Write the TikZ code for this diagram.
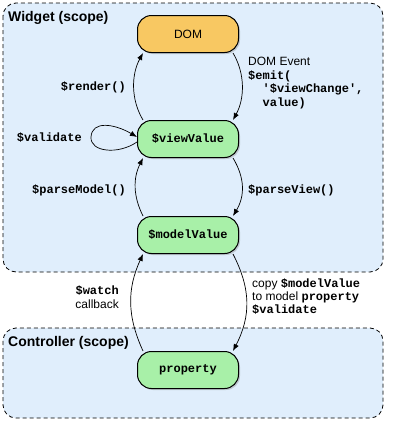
\documentclass[tikz,border=0pt]{standalone}
\usepackage{fontspec}
\setmainfont{Liberation Sans}
\setmonofont{Liberation Mono}
\usetikzlibrary{arrows.meta,shadows}
\definecolor{scopefill}{HTML}{E0EEFC}
\definecolor{domfill}{HTML}{F8C862}
\definecolor{valfill}{HTML}{A8F0A8}
\tikzset{
  scopebox/.style={draw, dash pattern=on 4pt off 3pt, fill=scopefill, rounded corners=13pt, line width=0.8pt},
  state/.style={draw, line width=1pt, rounded corners=14pt, minimum width=101pt, minimum height=37pt,
     drop shadow={shadow xshift=1.5pt, shadow yshift=-1.5pt, opacity=0.35}, font=\fontsize{12}{14}\selectfont},
  arr/.style={-{Latex[length=7pt,width=5.5pt]}, line width=0.7pt},
  lbl/.style={font=\fontsize{12}{14.5}\selectfont, inner sep=0pt},
  code/.style={font=\ttfamily\bfseries\fontsize{12}{14.5}\selectfont},
  title/.style={font=\bfseries\fontsize{14}{16}\selectfont, anchor=west, inner sep=0pt}
}
\begin{document}
\begin{tikzpicture}[x=1pt,y=-1pt]
\useasboundingbox (0,0) rectangle (394,421);
\draw[scopebox] (3,3) rectangle (383,272);
\draw[scopebox] (3,328) rectangle (383,418);
\node[title] (wt) at (8,18) {Widget (scope)};
\node[title] (ct) at (8,343) {Controller (scope)};

\node[state, fill=domfill] (dom) at (188,34) {DOM};
\node[state, fill=valfill] (vv) at (188,139) {\ttfamily\bfseries \$viewValue};
\node[state, fill=valfill] (mv) at (188,235) {\ttfamily\bfseries \$modelValue};
\node[state, fill=valfill] (pr) at (188,370) {\ttfamily\bfseries property};

% render
\draw[arr] ([xshift=6pt]vv.north west) .. controls +(-12,-20) and +(-12,22) .. ([xshift=6pt]dom.south west);
\node[lbl, code, anchor=east] (rl) at (126,87) {\$render()};
% DOM event
\draw[arr] ([xshift=-6pt]dom.south east) .. controls +(12,20) and +(12,-22) .. ([xshift=-6pt]vv.north east);
\node[lbl, anchor=north west, align=left] (de) at (248,57) {DOM Event\\[-1pt]{\ttfamily\bfseries \$emit(}\\[-1pt]{\ttfamily\bfseries \ \ '\$viewChange',}\\[-1pt]{\ttfamily\bfseries \ \ value)}};
% validate loop
\coordinate (ls) at ([yshift=-3pt]vv.west);
\coordinate (le) at ([yshift=2pt]vv.west);
\draw[arr] (ls) .. controls (118,155) and (90,152) .. (91,137) .. controls (92,120) and (115,124) .. (le);
\node[lbl, code, anchor=east] (vl) at (82,138) {\$validate};
% parseModel
\draw[arr] ([xshift=6pt]mv.north west) .. controls +(-10,-20) and +(-10,20) .. ([xshift=6pt]vv.south west);
\node[lbl, code, anchor=east] (pml) at (126,190) {\$parseModel()};
% parseView
\draw[arr] ([xshift=-6pt]vv.south east) .. controls +(12,20) and +(12,-20) .. ([xshift=-6pt]mv.north east);
\node[lbl, code, anchor=west] (pvl) at (248,190) {\$parseView()};
% watch
\draw[arr] ([xshift=6pt]pr.north west) .. controls +(-16,-35) and +(-16,35) .. ([xshift=6pt]mv.south west);
\node[lbl, anchor=north east, align=right] (wl) at (119,286) {{\ttfamily\bfseries \$watch}\\[-1pt]callback};
% copy
\draw[arr] ([xshift=-6pt]mv.south east) .. controls +(18,35) and +(18,-35) .. ([xshift=-6pt]pr.north east);
\node[lbl, anchor=north west, align=left] (cl) at (252,278) {copy {\ttfamily\bfseries \$modelValue}\\[-1pt]to model {\ttfamily\bfseries property}\\[-1pt]{\ttfamily\bfseries \$validate}};
\end{tikzpicture}
\end{document}
